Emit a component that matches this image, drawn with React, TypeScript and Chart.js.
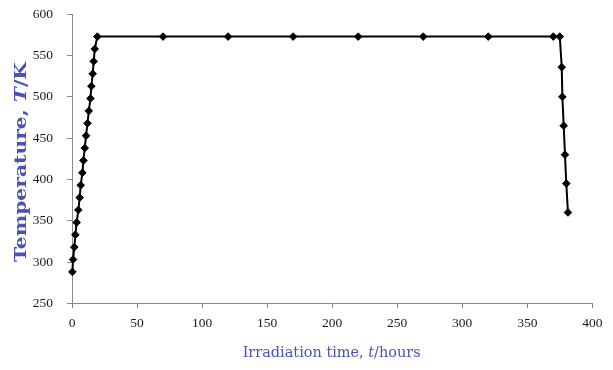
import React, { useEffect, useRef } from "react";
import { Chart, registerables } from "chart.js";

Chart.register(...registerables);

// Irradiation time (hours) and temperature (K)
const timeHours = [
  0.3, 0.8, 1.8, 2.6, 3.6, 4.9, 5.9, 6.7, 8, 8.8, 9.8, 10.8, 11.9, 12.9, 14.2, 14.9, 15.9, 16.7, 17.5, 19.5,
  70, 120, 170, 220, 270, 320, 370, 375,
  376.5, 377, 378, 379, 380, 381.3,
];
const temperatureK = [
  288, 303, 318, 333, 348, 363, 378, 393, 408, 423, 438, 453, 468, 483, 498, 513, 528, 543, 558, 573,
  573, 573, 573, 573, 573, 573, 573, 573,
  536, 500, 465, 430, 395, 360,
];

const xTicks = { min: 0, max: 400, step: 50 };
const yTicks = { min: 250, max: 600, step: 50 };

const xTitleRuns = [
  { text: "Irradiation time, ", italic: false },
  { text: "t", italic: true },
  { text: "/hours", italic: false },
];
const yTitleRuns = [
  { text: "Temperature, ", italic: false },
  { text: "T", italic: true },
  { text: "/K", italic: false },
];

const TITLE_COLOR = "#4b52b4";
const AXIS_COLOR = "#8a8a8a";

function drawRuns(
  ctx: CanvasRenderingContext2D,
  runs: { text: string; italic: boolean }[],
  size: number,
  weight: string,
  targetLen: number
) {
  const fontFor = (r: { italic: boolean }) =>
    `${r.italic ? "italic " : ""}${weight} ${size}px "DejaVu Serif", serif`;
  const widths = runs.map((r) => {
    ctx.font = fontFor(r);
    return ctx.measureText(r.text).width;
  });
  const total = widths.reduce((a, b) => a + b, 0);
  ctx.scale(targetLen / total, 1);
  let x = -total / 2;
  ctx.fillStyle = TITLE_COLOR;
  ctx.textAlign = "left";
  ctx.textBaseline = "alphabetic";
  runs.forEach((r, i) => {
    ctx.font = fontFor(r);
    ctx.fillText(r.text, x, 0);
    x += widths[i];
  });
}

const titlesPlugin = {
  id: "axisTitles",
  afterDraw(chart: any) {
    const ctx: CanvasRenderingContext2D = chart.ctx;
    const area = chart.chartArea;
    ctx.save();
    ctx.translate((area.left + area.right) / 2 - 0.5, 357);
    drawRuns(ctx, xTitleRuns, 15, "500", 178);
    ctx.restore();

    ctx.save();
    ctx.translate(26, 162);
    ctx.rotate(-Math.PI / 2);
    drawRuns(ctx, yTitleRuns, 16.5, "bold", 200);
    ctx.restore();
  },
};

export default function App() {
  const canvasRef = useRef<HTMLCanvasElement | null>(null);

  useEffect(() => {
    if (!canvasRef.current) return;
    const points = timeHours.map((t, i) => ({ x: t, y: temperatureK[i] }));
    const tickFont = { family: '"Liberation Serif", "Times New Roman", serif', size: 13.5 };
    const chart = new Chart(canvasRef.current, {
      type: "scatter",
      data: {
        datasets: [
          {
            data: points,
            showLine: true,
            borderColor: "#000000",
            backgroundColor: "#000000",
            borderWidth: 2,
            pointStyle: "rectRot",
            pointRadius: 3.8,
            pointBorderWidth: 1,
            pointBorderColor: "#000000",
            pointBackgroundColor: "#000000",
            clip: false,
          } as any,
        ],
      },
      options: {
        animation: false,
        responsive: false,
        layout: { autoPadding: false, padding: { left: 0, right: 20.7, top: 14.3, bottom: 0 } },
        plugins: { legend: { display: false }, tooltip: { enabled: false }, title: { display: false } },
        scales: {
          x: {
            type: "linear",
            min: xTicks.min,
            max: xTicks.max,
            ticks: { stepSize: xTicks.step, color: "#1a1a1a", font: tickFont, padding: 7, maxRotation: 0 },
            grid: { drawOnChartArea: false, drawTicks: true, tickLength: 5, color: AXIS_COLOR },
            border: { color: AXIS_COLOR, width: 1 },
            afterFit: (scale: any) => {
              scale.height = 370 - 303.3;
              scale.paddingLeft = 0;
              scale.paddingRight = 0;
            },
          },
          y: {
            type: "linear",
            min: yTicks.min,
            max: yTicks.max,
            ticks: { stepSize: yTicks.step, color: "#1a1a1a", font: tickFont, padding: 14 },
            grid: { drawOnChartArea: false, drawTicks: true, tickLength: 5, color: AXIS_COLOR },
            border: { color: AXIS_COLOR, width: 1 },
            afterFit: (scale: any) => {
              scale.width = 72;
              scale.paddingTop = 0;
              scale.paddingBottom = 0;
            },
          },
        },
      },
      plugins: [titlesPlugin],
    });
    return () => chart.destroy();
  }, []);

  return (
    <div style={{ position: "absolute", left: 0, top: 0, width: 613, height: 370, background: "#ffffff" }}>
      <canvas ref={canvasRef} width={613} height={370} />
    </div>
  );
}
